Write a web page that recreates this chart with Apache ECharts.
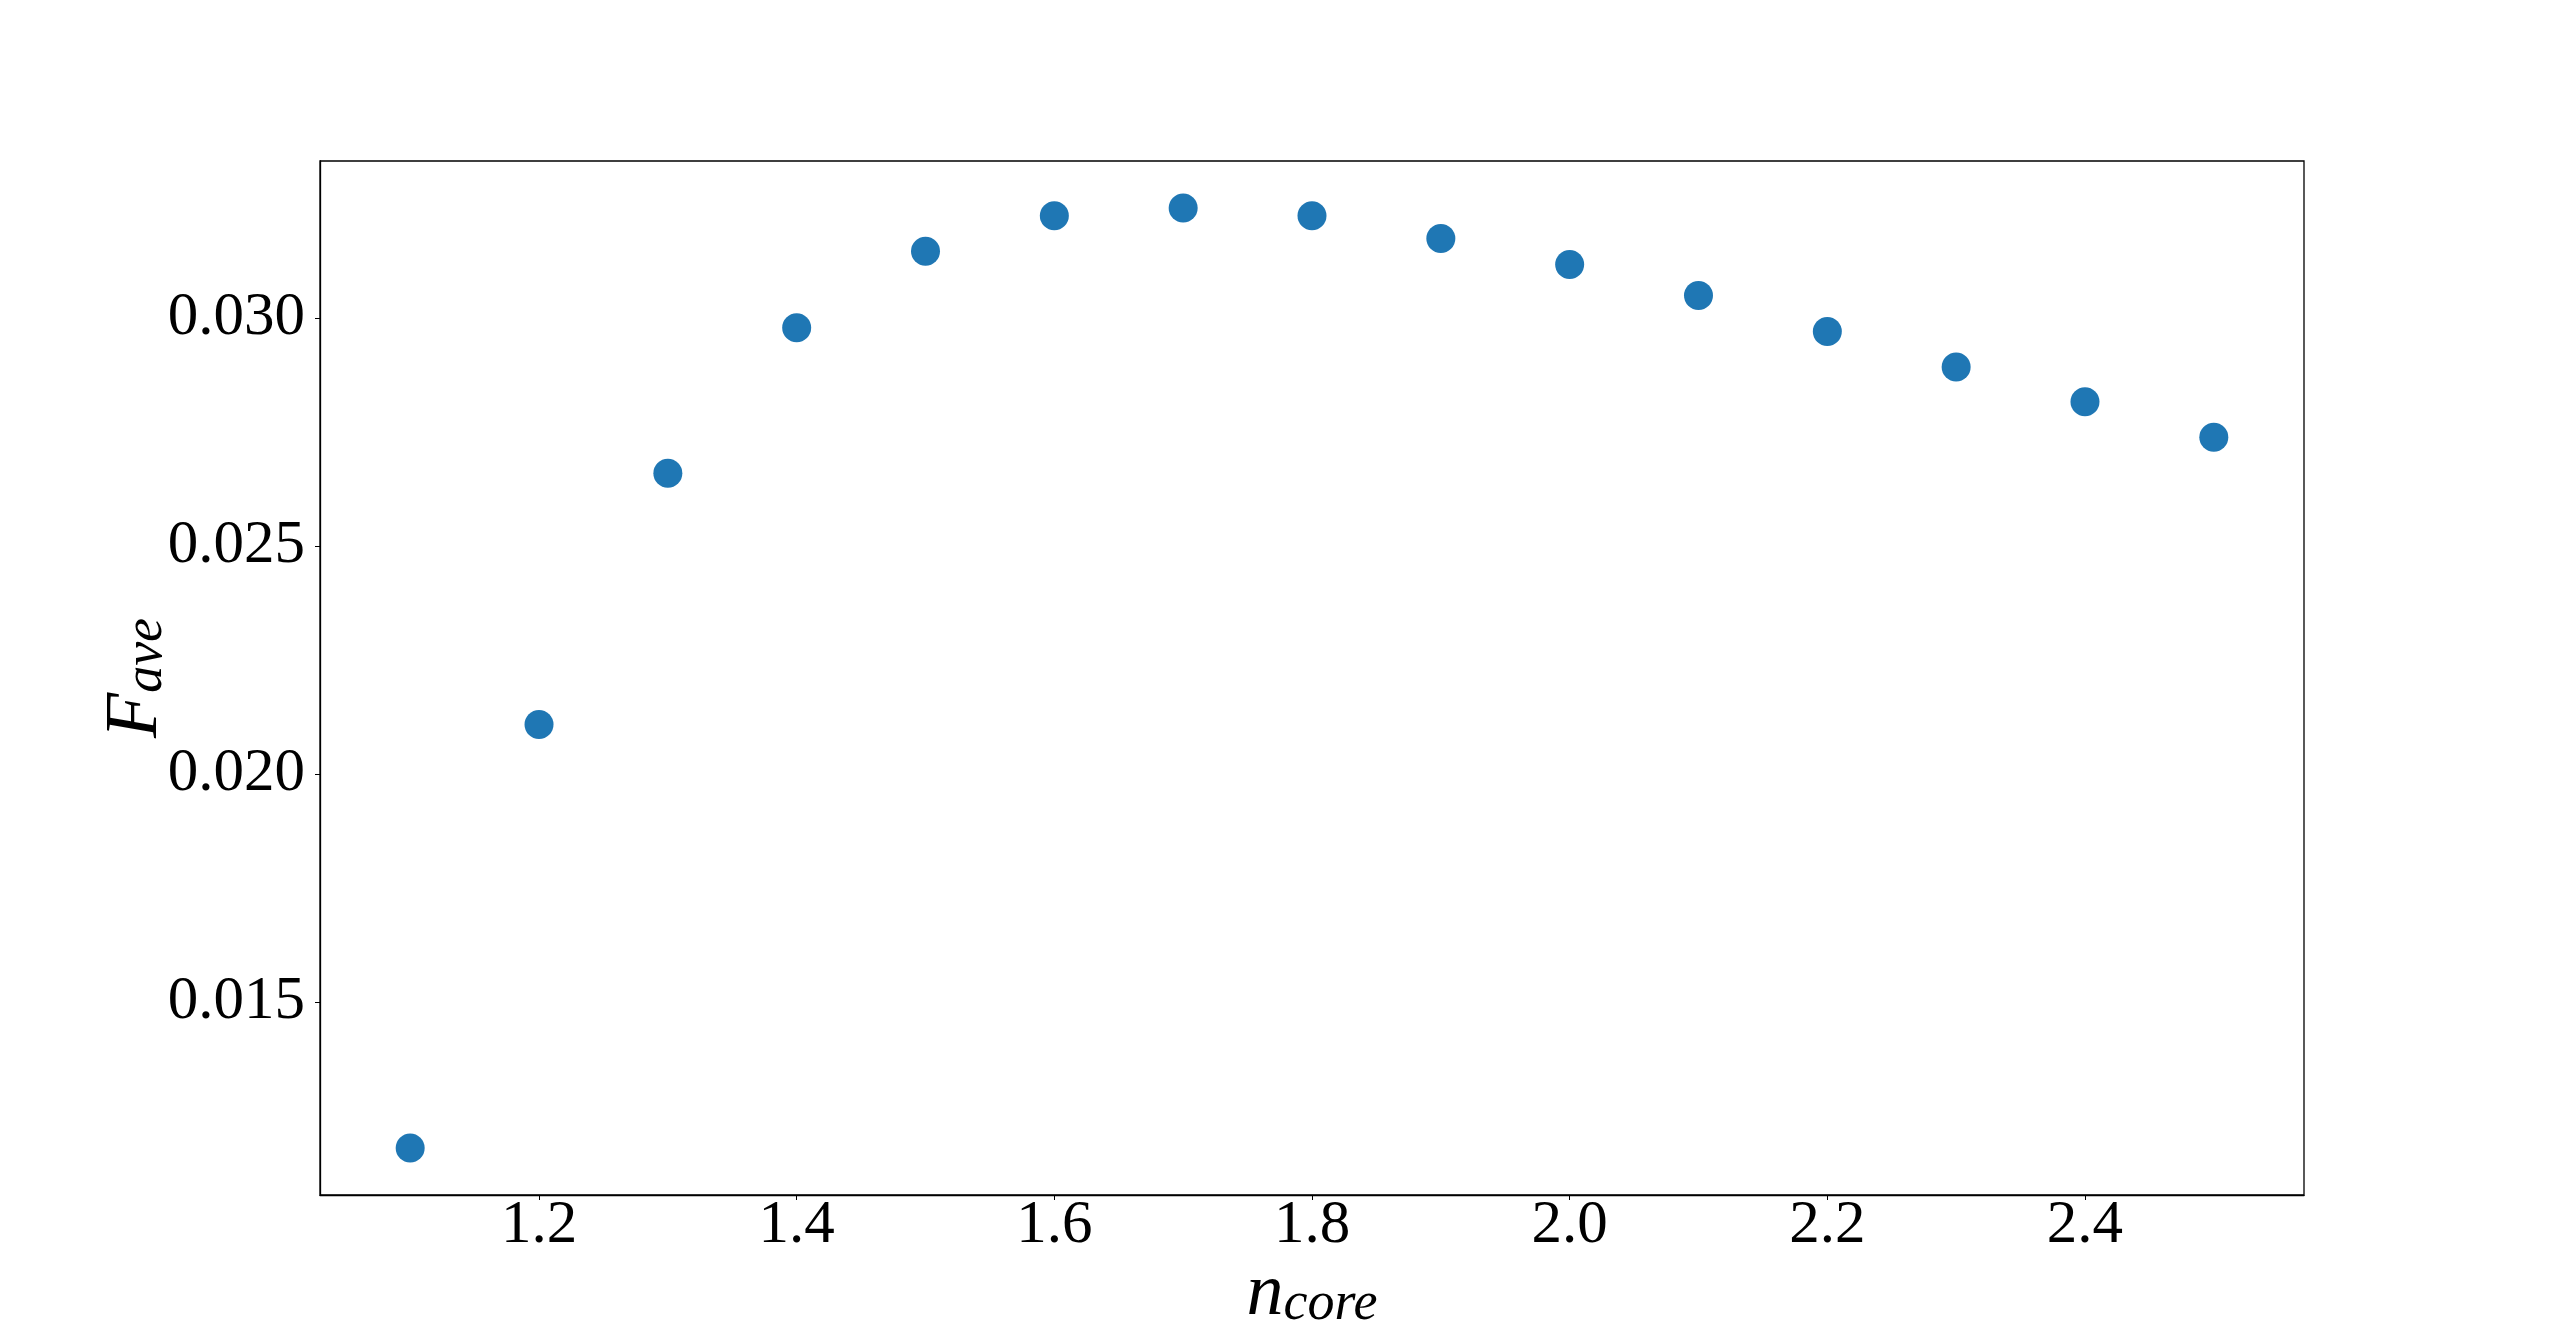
<!DOCTYPE html>
<html>
<head>
<meta charset="utf-8">
<script src="https://cdn.jsdelivr.net/npm/echarts@6/dist/echarts.min.js"></script>
<style>
html,body{margin:0;padding:0;background:#fff;}
#chart{width:2560px;height:1343px;}
</style>
</head>
<body>
<div id="chart"></div>
<script>
var nCore = [1.1, 1.2, 1.3, 1.4, 1.5, 1.6, 1.7, 1.8, 1.9, 2.0, 2.1, 2.2, 2.3, 2.4, 2.5];
var fAve = [0.01180, 0.02109, 0.02660, 0.02979, 0.03147, 0.03225, 0.03242, 0.03225, 0.03175, 0.03118, 0.03050, 0.02971, 0.02893, 0.02817, 0.02739];
var xTicks = [1.2, 1.4, 1.6, 1.8, 2.0, 2.2, 2.4];
var yTicks = [0.015, 0.020, 0.025, 0.030];

var FONT = '"Liberation Serif", "DejaVu Serif", serif';
var chart = echarts.init(document.getElementById('chart'));
var pts = nCore.map(function (x, i) { return [x, fAve[i]]; });

function nameRich(){
  return {
    m: {fontFamily: FONT, fontStyle: 'italic', fontSize: 74, lineHeight: 80, verticalAlign: 'bottom', color: '#000'},
    s: {fontFamily: FONT, fontStyle: 'italic', fontSize: 54, lineHeight: 54, padding: [44, 0, 0, 0], verticalAlign: 'bottom', color: '#000'}
  };
}

chart.setOption({
  animation: false,
  backgroundColor: '#fff',
  grid: {left: 320, top: 161, right: 256, bottom: 148, show: true, borderColor: '#000', borderWidth: 1.3,
    backgroundColor: 'transparent', outerBoundsMode: 'none', containLabel: false},
  xAxis: {
    type: 'value', min: 1.03, max: 2.57,
    splitLine: {show: false},
    axisLine: {show: true, onZero: false, lineStyle: {color: '#000', width: 1.3}},
    axisTick: {show: true, length: 5, lineStyle: {color: '#000', width: 1}, customValues: xTicks},
    axisLabel: {customValues: xTicks, fontFamily: FONT, fontSize: 61, color: '#000', margin: 0,
      formatter: function (v) { return v.toFixed(1); }},
    name: '{m|n}{s|core}', nameLocation: 'middle', nameGap: 57, nameMoveOverlap: false,
    nameTextStyle: {rich: nameRich()}
  },
  yAxis: {
    type: 'value', min: 0.01077, max: 0.03345,
    splitLine: {show: false},
    axisLine: {show: true, onZero: false, lineStyle: {color: '#000', width: 1.3}},
    axisTick: {show: true, length: 5, lineStyle: {color: '#000', width: 1}, customValues: yTicks},
    axisLabel: {customValues: yTicks, fontFamily: FONT, fontSize: 61, color: '#000', margin: 15,
      formatter: function (v) { return v.toFixed(3); }},
    name: '{m|F}{s|ave}', nameLocation: 'middle', nameGap: 146, nameMoveOverlap: false,
    nameTextStyle: {rich: nameRich()}
  },
  series: [{
    type: 'scatter', data: pts, symbol: 'circle', symbolSize: 29,
    itemStyle: {color: '#1f77b4', opacity: 1}
  }]
});
</script>
</body>
</html>
